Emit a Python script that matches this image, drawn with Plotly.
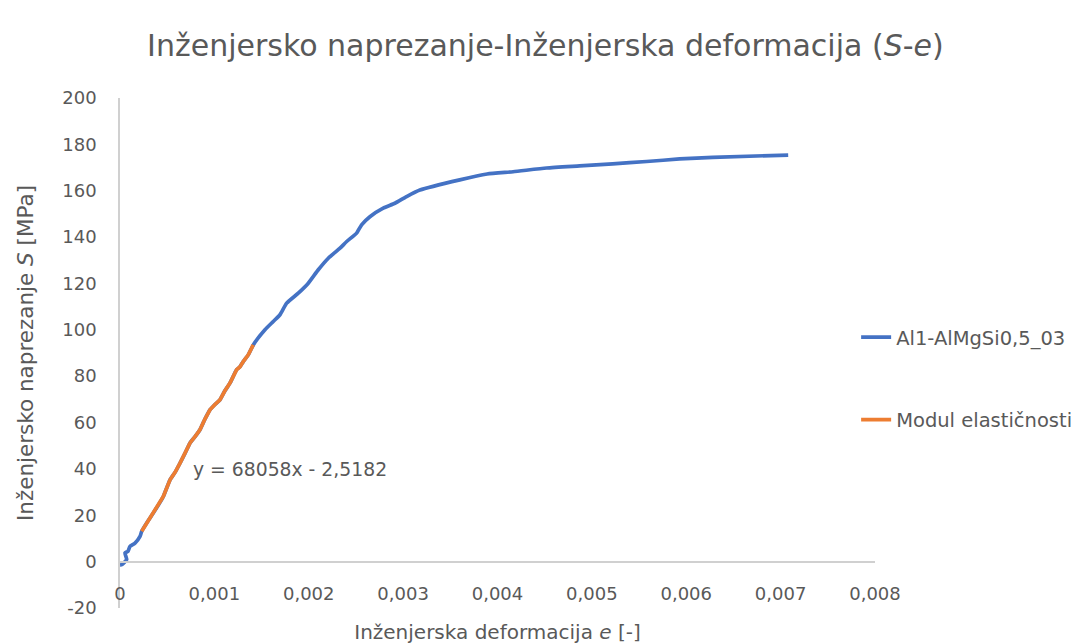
import plotly.graph_objects as go

# Tensile test, Al1-AlMgSi0,5_03: engineering strain e [-] and engineering stress S [MPa]
strain_start = [0.0, 0.000018, 0.000071, 0.000053, 0.000085, 0.000106, 0.000159, 0.000212]
stress_start = [-1.5, -1.3, 0.9, 3.7, 4.5, 6.6, 8.0, 10.9]

# Linear (elastic) segment used for the modulus fit
strain_elastic = [0.00023, 0.000283, 0.000353, 0.000405, 0.000459, 0.00053, 0.000585, 0.000636,
                  0.00069, 0.000742, 0.000795, 0.000847, 0.0009, 0.000953, 0.001006, 0.001059,
                  0.00111, 0.001165, 0.001236, 0.00127, 0.001306, 0.001359, 0.001412]
stress_elastic = [13.1, 16.7, 21.0, 24.3, 28.1, 35.3, 38.6, 42.5, 46.8, 51.2, 53.9, 56.9, 61.5,
                  65.5, 67.8, 69.8, 73.6, 77.0, 82.8, 84.0, 86.3, 89.2, 93.5]

strain_plastic = [0.001536, 0.001624, 0.001695, 0.001766, 0.001889, 0.001995, 0.002101, 0.002207,
                  0.002331, 0.002402, 0.002507, 0.00256, 0.002648, 0.002789, 0.002913, 0.003037,
                  0.003178, 0.0036, 0.00389, 0.004166, 0.00452, 0.00487, 0.00522, 0.00558,
                  0.00593, 0.00628, 0.00708]
stress_plastic = [100.0, 103.6, 106.5, 111.5, 115.8, 120.1, 125.9, 130.9, 135.2, 138.1, 141.7,
                  145.3, 148.8, 152.5, 154.6, 157.5, 160.3, 164.7, 167.2, 168.2, 169.8, 170.7,
                  171.6, 172.6, 173.7, 174.4, 175.4]

# Fit of the elastic segment: S = k*e + n
fit_slope = 68058
fit_intercept = -2.5182

x_ticks = [0, 0.001, 0.002, 0.003, 0.004, 0.005, 0.006, 0.007, 0.008]
x_tick_text = ["0", "0,001", "0,002", "0,003", "0,004", "0,005", "0,006", "0,007", "0,008"]
y_ticks = [-20, 0, 20, 40, 60, 80, 100, 120, 140, 160, 180, 200]
y_tick_text = ["-20", "0", "20", "40", "60", "80", "100", "120", "140", "160", "180", "200"]

strain_all = strain_start + strain_elastic + strain_plastic
stress_all = stress_start + stress_elastic + stress_plastic

TEXT = "#595959"
AXIS = "#D0D0D0"
FONT = "DejaVu Sans"

fig = go.Figure()
fig.add_trace(go.Scatter(
    x=strain_all, y=stress_all, mode="lines", name="Al1-AlMgSi0,5_03",
    line=dict(color="#4472C4", width=3.7, shape="spline", smoothing=0.5), legendgroup="a",
))
fig.add_trace(go.Scatter(
    x=strain_elastic, y=stress_elastic, mode="lines", name="Modul elastičnosti",
    line=dict(color="#ED7D31", width=3.7), legendgroup="b",
))

def fmt(v, d):
    return f"{v:.{d}f}".replace(".", ",")

eq = f"y = {fit_slope}x - {fmt(abs(fit_intercept), 4)}"
fig.add_annotation(x=0.0018, y=39.7, xref="x", yref="y", text=eq, showarrow=False,
                   font=dict(size=18.8, color=TEXT, family=FONT))

y_min, y_max = -20, 200
fig.update_layout(
    width=1080, height=644,
    margin=dict(l=120, r=205, t=98, b=36, autoexpand=False),
    paper_bgcolor="white", plot_bgcolor="white",
    font=dict(family=FONT, color=TEXT, size=18),
    title=dict(text="Inženjersko naprezanje-Inženjerska deformacija (<i>S</i>-<i>e</i>)",
               x=0.505, xanchor="center", xref="container", y=0.93, yanchor="middle",
               font=dict(size=30, color=TEXT, family=FONT)),
    showlegend=True,
    legend=dict(x=0.975, xanchor="left", y=0.45, yanchor="middle", tracegroupgap=54,
                traceorder="grouped", font=dict(size=19.5, color=TEXT, family=FONT),
                bgcolor="rgba(0,0,0,0)"),
    xaxis=dict(range=[0, 0.008], tickvals=x_ticks, ticktext=x_tick_text,
               showgrid=False, zeroline=False, showline=True, linecolor=AXIS, linewidth=1.5,
               anchor="free", position=(0 - y_min) / (y_max - y_min),
               ticks="", ticklabelstandoff=16, automargin=False,
               title=dict(text="Inženjerska deformacija <i>e</i> [-]", standoff=22,
                          font=dict(size=20, color=TEXT, family=FONT))),
    yaxis=dict(range=[y_min, y_max], tickvals=y_ticks, ticktext=y_tick_text,
               showgrid=False, zeroline=False, showline=True, linecolor=AXIS, linewidth=1.5,
               ticks="", ticklabelstandoff=18, automargin=False,
               title=dict(text="Inženjersko naprezanje <i>S</i> [MPa]", standoff=23,
                          font=dict(size=21.5, color=TEXT, family=FONT))),
)

fig.write_html("out.html")
